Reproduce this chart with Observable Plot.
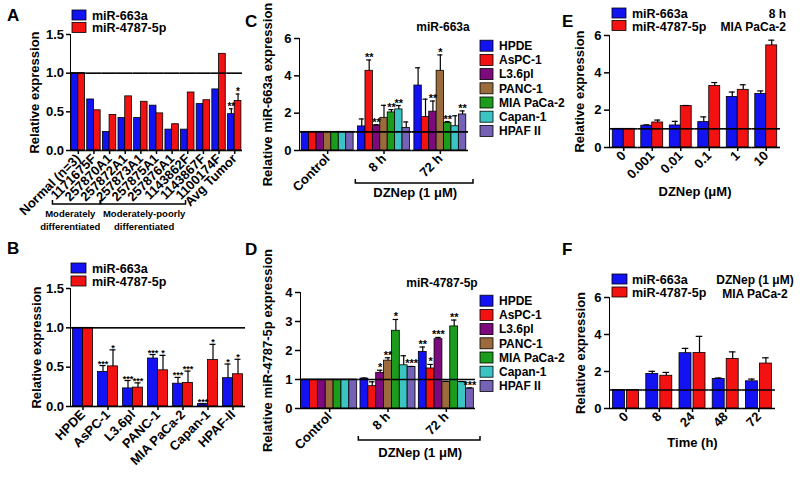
<!DOCTYPE html>
<html><head><meta charset="utf-8">
<script src="https://cdn.jsdelivr.net/npm/d3@7"></script>
<script src="https://cdn.jsdelivr.net/npm/@observablehq/plot@0.6"></script>
<style>
body{margin:0;background:#fff;}
#fig{position:relative;width:800px;height:477px;overflow:hidden;background:#fff;}
.panel{position:absolute;}
.panel svg g[aria-label*="axis"] path,.panel svg g[aria-label*="axis"] line{stroke-width:1.5px;}
</style></head><body><div id="fig"></div><script>
const FONT = "'Liberation Sans', Arial, sans-serif";

// ---------- shared ----------
const miRNAs = ["miR-663a", "miR-4787-5p"];
const miRNAColors = ["#1212f2", "#f21212"];
const ticksAB = [0, 0.5, 1, 1.5];

// ---------- Panel A : patient tumours ----------
const samplesA = ["Normal (n=3)", "1171675F", "257870A1", "257872A1", "257873A1", "257875A1", "257876A1", "1143862F", "1143867F", "1100174F", "Avg Tumor"];
const relA663  = [1.00, 0.66, 0.24, 0.42, 0.42, 0.58, 0.27, 0.27, 0.60, 0.79, 0.47];
const relA4787 = [1.00, 0.52, 0.46, 0.70, 0.63, 0.48, 0.34, 0.75, 0.65, 1.25, 0.64];
const semA663  = [0, 0, 0, 0, 0, 0, 0, 0, 0, 0, 0.07];
const semA4787 = [0, 0, 0, 0, 0, 0, 0, 0, 0, 0, 0.09];
const starsA663  = ["", "", "", "", "", "", "", "", "", "", "**"];
const starsA4787 = ["", "", "", "", "", "", "", "", "", "", "*"];
const bracketsA = ["Moderately", "differentiated", "Moderately-poorly", "differentiated"];

// ---------- Panel B : cell lines ----------
const cellsB = ["HPDE", "AsPC-1", "L3.6pl", "PANC-1", "MIA PaCa-2", "Capan-1", "HPAF-II"];
const relB663  = [1.00, 0.44, 0.23, 0.61, 0.29, 0.03, 0.36];
const relB4787 = [1.00, 0.51, 0.24, 0.46, 0.30, 0.59, 0.41];
const semB663  = [0, 0.08, 0.10, 0.05, 0.08, 0.004, 0.18];
const semB4787 = [0, 0.21, 0.06, 0.19, 0.15, 0.20, 0.19];
const starsB663  = ["", "***", "***", "***", "***", "***", "*"];
const starsB4787 = ["", "*", "***", "*", "***", "*", "*"];

// ---------- Panels C, D : DZNep 1 uM ----------
const cellLines = ["HPDE", "AsPC-1", "L3.6pl", "PANC-1", "MIA PaCa-2", "Capan-1", "HPAF II"];
const cellColors = ["#1212f2", "#f21212", "#7d0a7d", "#9c6b3c", "#1c9c1c", "#3cc4c4", "#7662b4"];
const conditions = ["Control", "8 h", "72 h"];
const treatmentLabel = "DZNep (1 μM)";

const c663Control = [1, 1, 1, 1, 1, 1, 1];
const c663At8h    = [1.29, 4.27, 1.34, 1.75, 2.04, 2.20, 1.21];
const c663At72h   = [3.48, 1.79, 2.08, 4.27, 1.48, 1.30, 1.93];
const c663Sem8h   = [0.40, 0.58, 0.04, 0.67, 0.15, 0.21, 0.32];
const c663Sem72h  = [0.95, 0.96, 0.57, 0.85, 0.07, 0.56, 0.19];
const c663Stars8h  = ["", "**", "**", "", "**", "**", ""];
const c663Stars72h = ["", "", "**", "*", "**", "", "**"];

const d4787Control = [1, 1, 1, 1, 1, 1, 1];
const d4787At8h    = [1.03, 0.77, 1.23, 1.65, 2.68, 1.49, 1.43];
const d4787At72h   = [1.95, 1.38, 2.39, 0.92, 2.83, 0.91, 0.69];
const d4787Sem8h   = [0.02, 0.15, 0.09, 0.10, 0.39, 0.33, 0.02];
const d4787Sem72h  = [0.17, 0.14, 0.06, 0.02, 0.22, 0.02, 0.02];
const d4787Stars8h  = ["", "", "*", "**", "*", "", "***"];
const d4787Stars72h = ["**", "*", "***", "", "**", "", "***"];

// ---------- Panel E : dose ----------
const dosesE = ["0", "0.001", "0.01", "0.1", "1", "10"];
const relE663  = [1.00, 1.17, 1.18, 1.36, 2.71, 2.87];
const relE4787 = [1.00, 1.34, 2.22, 3.30, 3.09, 5.47];
const semE663  = [0, 0.04, 0.22, 0.28, 0.26, 0.16];
const semE4787 = [0, 0.13, 0.03, 0.18, 0.27, 0.28];

// ---------- Panel F : time ----------
const timesF = ["0", "8", "24", "48", "72"];
const relF663  = [1.00, 1.87, 2.99, 1.60, 1.47];
const relF4787 = [1.00, 1.77, 3.00, 2.68, 2.43];
const semF663  = [0, 0.14, 0.26, 0.05, 0.12];
const semF4787 = [0, 0.18, 0.90, 0.38, 0.31];

const fmt1 = d => d.toFixed(1);
const fmt0 = d => String(d);

// ---------- builder ----------
function barPanel(o) {
  const rows = [];
  o.groups.forEach((g, gi) => o.series.forEach((s, si) => {
    const v = o.values[si][gi];
    const e = (o.sems && o.sems[si] && o.sems[si][gi]) || 0;
    const st = (o.stars && o.stars[si] && o.stars[si][gi]) || "";
    rows.push({group: g, series: s, value: v, sem: e, top: v + e, star: st});
  }));
  return Plot.plot({
    width: o.width, height: o.height,
    marginLeft: o.ml, marginRight: o.mr, marginTop: o.mt, marginBottom: o.mb,
    style: {fontFamily: FONT, fontSize: "13px", fontWeight: "bold", color: "#000", background: "transparent", overflow: "visible"},
    facet: {data: rows, x: "group"},
    fx: {domain: o.groups, padding: 0, round: false, label: o.fxLabel ?? null, labelAnchor: "center",
         labelOffset: o.fxLabelOffset, tickRotate: -45, tickSize: 4, tickPadding: 2, axis: "bottom"},
    x: {domain: o.series, axis: null, paddingInner: o.pi ?? 0, paddingOuter: o.po, round: false},
    y: {domain: o.yDomain, ticks: o.yTicks, tickFormat: o.yFormat, label: o.yLabel, labelAnchor: "center",
        labelArrow: "none", labelOffset: o.yLabelOffset, line: true, tickSize: o.tickSize ?? 5, tickPadding: 3},
    color: {domain: o.series, range: o.colors},
    marks: [
      Plot.barY(rows, {x: "series", y: "value", fill: "series", stroke: "#000", strokeWidth: 0.8}),
      Plot.ruleX(rows, {filter: d => d.sem > 0, x: "series", y1: "value", y2: "top", stroke: "#000", strokeWidth: 1.2}),
      Plot.tickY(rows, {filter: d => d.sem > 0, x: "series", y: "top", insetLeft: o.cap, insetRight: o.cap, stroke: "#000", strokeWidth: 1.2}),
      Plot.text(rows, {filter: d => d.star !== "", x: "series", y: "top", text: "star", lineAnchor: "bottom", dy: 1,
                       fontSize: o.starSize, fontWeight: "bold", fill: "#000"}),
      Plot.ruleY([1], {stroke: "#000", strokeWidth: 1.6}),
      Plot.ruleY([0], {stroke: "#000", strokeWidth: 1.6})
    ]
  });
}

const fig = document.getElementById("fig");
function place(plot, left, top, z) {
  const d = document.createElement("div");
  d.className = "panel"; d.style.left = left + "px"; d.style.top = top + "px"; d.style.zIndex = z;
  d.appendChild(plot); fig.appendChild(d);
  return plot;
}

const plotC = place(barPanel({groups: conditions, series: cellLines, colors: cellColors,
  values: d3.transpose([c663Control, c663At8h, c663At72h]),
  sems: d3.transpose([[0,0,0,0,0,0,0], c663Sem8h, c663Sem72h]),
  stars: d3.transpose([["","","","","","",""], c663Stars8h, c663Stars72h]),
  width: 220, height: 240, ml: 44, mr: 7, mt: 38, mb: 90, yDomain: [0, 6], yTicks: [0, 2, 4, 6], yFormat: fmt0,
  yLabel: "Relative miR-663a expression", yLabelOffset: 37, po: 0.3, cap: 1.2, starSize: 11}), 255, 0, 1);

const plotD = place(barPanel({groups: conditions, series: cellLines, colors: cellColors,
  values: d3.transpose([d4787Control, d4787At8h, d4787At72h]),
  sems: d3.transpose([[0,0,0,0,0,0,0], d4787Sem8h, d4787Sem72h]),
  stars: d3.transpose([["","","","","","",""], d4787Stars8h, d4787Stars72h]),
  width: 225, height: 237, ml: 45, mr: 5, mt: 52, mb: 69, yDomain: [0, 4], yTicks: [0, 1, 2, 3, 4], yFormat: fmt0,
  yLabel: "Relative miR-4787-5p expression", yLabelOffset: 38, po: 0.21, cap: 1.2, starSize: 11}), 255, 240, 1);

const plotE = place(barPanel({groups: dosesE, series: miRNAs, colors: miRNAColors,
  values: [relE663, relE4787], sems: [semE663, semE4787],
  width: 260, height: 240, ml: 69, mr: 20, mt: 35, mb: 93, yDomain: [0, 6], yTicks: [0, 2, 4, 6], yFormat: fmt0,
  yLabel: "Relative expression", yLabelOffset: 35, po: 0.3, cap: 2.5, starSize: 10,
  fxLabel: "DZNep (μM)", fxLabelOffset: 48}), 540, 0, 1);

const plotF = place(barPanel({groups: timesF, series: miRNAs, colors: miRNAColors,
  values: [relF663, relF4787], sems: [semF663, semF4787],
  width: 260, height: 237, ml: 69, mr: 25, mt: 57, mb: 69, yDomain: [0, 6], yTicks: [0, 2, 4, 6], yFormat: fmt0,
  yLabel: "Relative expression", yLabelOffset: 34, pi: 0.143, po: 0.257, cap: 2.7, starSize: 10,
  fxLabel: "Time (h)", fxLabelOffset: 38}), 540, 240, 1);

const plotA = place(barPanel({groups: samplesA, series: miRNAs, colors: miRNAColors,
  values: [relA663, relA4787], sems: [semA663, semA4787], stars: [starsA663, starsA4787],
  width: 260, height: 240, ml: 70, mr: 18, mt: 34, mb: 90, yDomain: [0, 1.5], yTicks: ticksAB, tickSize: 4,
  yFormat: fmt1, yLabel: "Relative expression", yLabelOffset: 41, po: 0.165, cap: 1.5, starSize: 10}), 0, 0, 3);

const plotB = place(barPanel({groups: cellsB, series: miRNAs, colors: miRNAColors,
  values: [relB663, relB4787], sems: [semB663, semB4787], stars: [starsB663, starsB4787],
  width: 260, height: 237, ml: 70, mr: 15, mt: 48, mb: 71, yDomain: [0, 1.5], yTicks: ticksAB, tickSize: 4,
  yFormat: fmt1, yLabel: "Relative expression", yLabelOffset: 39, po: 0.25, cap: 2, starSize: 9}), 0, 240, 3);

// ---------- overlay: letters, legends, titles, brackets ----------
const ov = d3.select(fig).append("svg").attr("width", 800).attr("height", 477)
  .style("position", "absolute").style("left", "0px").style("top", "0px").style("pointer-events", "none")
  .style("z-index", 4).style("background", "none")
  .style("font-family", FONT).style("font-weight", "bold");
function txt(x, y, s, size, anchor = "start") {
  return ov.append("text").attr("x", x).attr("y", y).attr("font-size", size).attr("text-anchor", anchor).attr("fill", "#000").text(s);
}
function legend(x, top, rowH, names, colors, size, sw, sh, gap, base) {
  names.forEach((n, i) => {
    ov.append("rect").attr("x", x).attr("y", top + i * rowH).attr("width", sw).attr("height", sh)
      .attr("fill", colors[i]).attr("stroke", "#000").attr("stroke-width", 0.8);
    txt(x + sw + gap, top + i * rowH + base, n, size);
  });
}
function bracket(x1, x2, y, up) {
  ov.append("path").attr("d", `M${x1},${y - up}V${y}H${x2}V${y - up}`)
    .attr("fill", "none").attr("stroke", "#000").attr("stroke-width", 1.5);
}
function band(plot, key) {
  const s = plot.scale("fx");
  return {start: s.apply(key), bw: s.bandwidth};
}

// y tick labels of A and B, placed through each plot's own y scale (Plot's copies removed)
[[plotA, 0, 0, 70], [plotB, 0, 240, 70]].forEach(([p, left, top, ml]) => {
  p.querySelectorAll("g[aria-label='y-axis tick label']").forEach(g => g.remove());
  const ys = p.scale("y");
  ticksAB.forEach(v => txt(left + ml - 6, top + ys.apply(v), fmt1(v), 13, "end").attr("dy", "0.35em"));
});

[["A", 7, 21], ["B", 7, 254], ["C", 245, 27], ["D", 245, 255], ["E", 562, 27], ["F", 562, 255]]
  .forEach(([l, x, y]) => txt(x, y, l, 17));

legend(72, 10, 12.5, miRNAs, miRNAColors, 12.5, 14, 10, 6, 9.5);
legend(71, 263, 13, miRNAs, miRNAColors, 12.5, 15, 10, 6, 9.5);
legend(612, 8, 12.5, miRNAs, miRNAColors, 12.5, 14, 10, 6, 10);
legend(612, 274, 13, miRNAs, miRNAColors, 12.5, 15, 10, 5, 10);
legend(480, 40.2, 14.2, cellLines, cellColors, 12, 13, 11, 6, 9.8);
legend(480, 295.2, 14.2, cellLines, cellColors, 12, 13, 11, 6, 9.8);

txt(443, 31, "miR-663a", 12, "middle");
txt(442, 287, "miR-4787-5p", 12, "middle");
txt(786, 18, "8 h", 12, "end");
txt(786, 31, "MIA PaCa-2", 12, "end");
txt(755, 284, "DZNep (1 μM)", 12, "middle");
txt(755, 297.5, "MIA PaCa-2", 12, "middle");

// C / D treatment brackets
[[plotC, 255, 0, 183, 197], [plotD, 255, 240, 440, 457]].forEach(([p, left, top, y, ty]) => {
  const b8 = band(p, conditions[1]), b72 = band(p, conditions[2]);
  const x1 = left + b8.start, x2 = left + b72.start + b72.bw + 5;
  bracket(x1, x2, y, 4);
  txt((x1 + x2) / 2 + 1, ty, treatmentLabel, 13, "middle");
});

// A differentiation brackets
{
  const c = k => { const b = band(plotA, k); return b.start + b.bw / 2; };
  const l1 = c(samplesA[1]) - 41, l2 = c(samplesA[2]) - 9;
  const r1 = c(samplesA[3]) - 24, r2 = c(samplesA[9]) - 33;
  bracket(l1, l2, 204, 4);
  bracket(r1, r2, 204, 4);
  txt((l1 + l2) / 2 - 6, 217, bracketsA[0], 9.5, "middle");
  txt((l1 + l2) / 2 - 6, 230, bracketsA[1], 9.5, "middle");
  txt((r1 + r2) / 2 + 1, 217, bracketsA[2], 9.5, "middle");
  txt((r1 + r2) / 2 + 1, 230, bracketsA[3], 9.5, "middle");
}
</script></body></html>
